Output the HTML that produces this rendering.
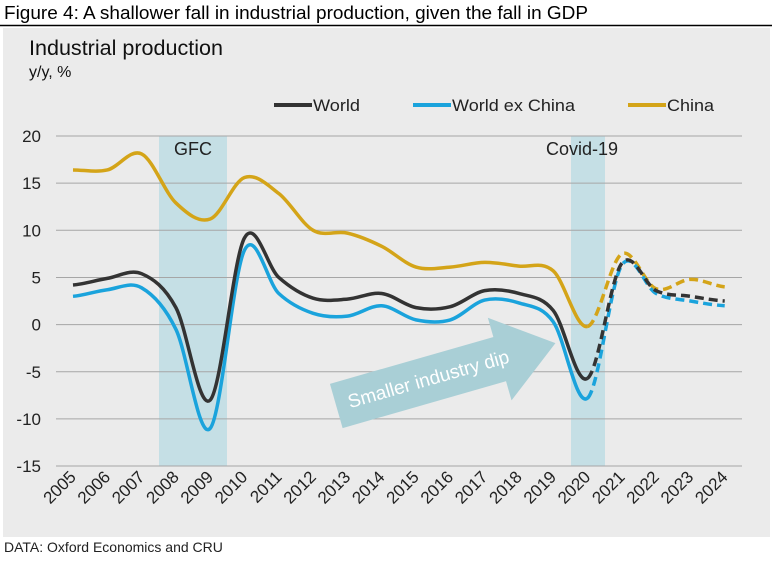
<!DOCTYPE html>
<html><head><meta charset="utf-8"><style>
body{margin:0;width:772px;height:559px;background:#fff;font-family:"Liberation Sans",Arial,sans-serif;overflow:hidden}
</style></head><body>
<svg id="s" width="772" height="559" xmlns="http://www.w3.org/2000/svg" font-family="Liberation Sans, Arial, sans-serif">
<text x="4" y="19" font-size="18" fill="#000" textLength="584" lengthAdjust="spacingAndGlyphs">Figure 4: A shallower fall in industrial production, given the fall in GDP</text>
<line x1="0" y1="25.5" x2="772" y2="25.5" stroke="#000" stroke-width="1.5"/>
<rect x="3" y="28" width="767" height="509" fill="#ebebeb"/>
<text x="29" y="55" font-size="21" fill="#111" textLength="194" lengthAdjust="spacingAndGlyphs">Industrial production</text>
<text x="29" y="77" font-size="16" fill="#111">y/y, %</text>
<rect x="159" y="136" width="68" height="330" fill="#c5dfe5"/>
<rect x="571" y="136" width="34" height="330" fill="#c5dfe5"/>
<g id="grid" stroke="#a6a6a6" stroke-width="1"></g>
<g id="yl" font-size="17" fill="#222" text-anchor="end"></g>
<g id="xl" font-size="17" fill="#222"></g>
<text x="193" y="155" font-size="18" fill="#222" text-anchor="middle">GFC</text>
<text x="582" y="155" font-size="18" fill="#222" text-anchor="middle">Covid-19</text>
<g transform="rotate(-16,336,405)">
<rect x="336" y="383" width="172" height="46" fill="#a9cfd6"/>
<polygon points="506,363 564,406 506,449" fill="#a9cfd6"/>
<text x="432" y="412" font-size="19" fill="#fff" text-anchor="middle">Smaller industry dip</text>
</g>
<g id="lines" fill="none" stroke-width="3.5"></g>
<line x1="274" y1="105" x2="312" y2="105" stroke="#333" stroke-width="4"/>
<text x="313" y="111" font-size="17" fill="#222" textLength="47" lengthAdjust="spacingAndGlyphs">World</text>
<line x1="413" y1="105" x2="451" y2="105" stroke="#1aa3dc" stroke-width="4"/>
<text x="452" y="111" font-size="17" fill="#222" textLength="123" lengthAdjust="spacingAndGlyphs">World ex China</text>
<line x1="628" y1="105" x2="666" y2="105" stroke="#d4a418" stroke-width="4"/>
<text x="667" y="111" font-size="17" fill="#222" textLength="47" lengthAdjust="spacingAndGlyphs">China</text>
<text x="4" y="552" font-size="14" fill="#222">DATA: Oxford Economics and CRU</text>
</svg>
<script>
var NS="http://www.w3.org/2000/svg";
function Y(v){return 324.6-v*9.43;}
function X(i){return 73+i*34.3;}
var g=document.getElementById('grid'),yl=document.getElementById('yl'),xl=document.getElementById('xl');
for(var v=20;v>=-15;v-=5){var l=document.createElementNS(NS,'line');l.setAttribute('x1',56);l.setAttribute('x2',742);l.setAttribute('y1',Y(v));l.setAttribute('y2',Y(v));g.appendChild(l);
var t=document.createElementNS(NS,'text');t.setAttribute('x',41);t.setAttribute('y',Y(v)+6);t.textContent=v;yl.appendChild(t);}
for(var i=0;i<20;i++){var t=document.createElementNS(NS,'text');var x=X(i)+4,y=478;t.setAttribute('x',x);t.setAttribute('y',y);t.setAttribute('text-anchor','end');t.setAttribute('transform','rotate(-45,'+x+','+y+')');t.textContent=2005+i;xl.appendChild(t);}
var data=[
["#d4a418",[16.4,16.4,18.1,12.9,11.2,15.6,13.9,10.0,9.7,8.3,6.1,6.1,6.6,6.2,5.7,-0.2,7.5,3.8,4.8,4.0]],
["#1aa3dc",[3.0,3.7,3.9,-0.5,-11,7.9,3.3,1.2,0.9,2.0,0.5,0.5,2.6,2.3,0.3,-7.8,6.3,3.3,2.5,2.0]],
["#333333",[4.2,4.9,5.4,1.8,-8,9.2,5.0,2.8,2.7,3.3,1.8,1.9,3.6,3.3,1.5,-5.7,6.5,3.6,3.0,2.5]]];
var L=document.getElementById('lines');
function seg(p,a,b){var d="M"+X(a)+","+Y(p[a]);for(var i=a;i<b;i++){var p0=p[Math.max(i-1,0)],p1=p[i],p2=p[i+1],p3=p[Math.min(i+2,p.length-1)];
var x1=X(i),x2=X(i+1),h=34.3/3;d+=" C"+(x1+h)+","+Y(p1+(p2-p0)/6)+" "+(x2-h)+","+Y(p2-(p3-p1)/6)+" "+x2+","+Y(p2);}return d;}
data.forEach(function(s){var a=document.createElementNS(NS,'path');a.setAttribute('d',seg(s[1],0,15));a.setAttribute('stroke',s[0]);L.appendChild(a);
var b=document.createElementNS(NS,'path');b.setAttribute('d',seg(s[1],15,19));b.setAttribute('stroke',s[0]);b.setAttribute('stroke-dasharray','9,5');L.appendChild(b);});
</script>
</body></html>
